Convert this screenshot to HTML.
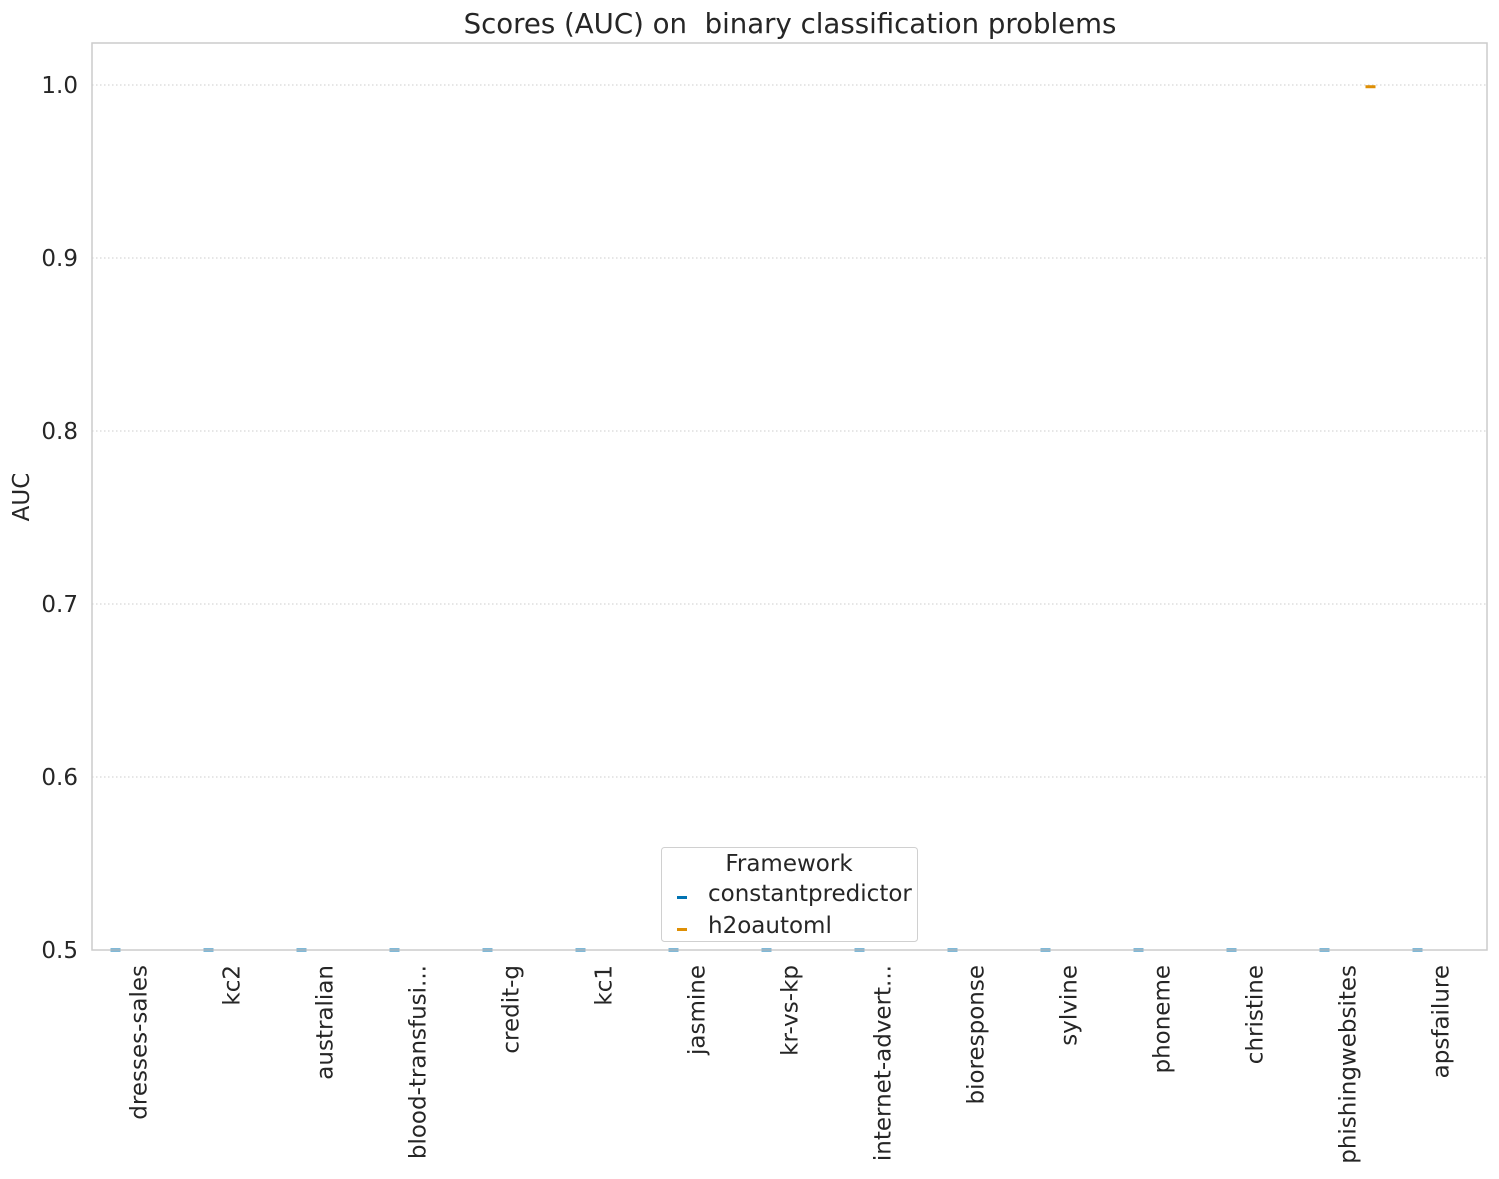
<!DOCTYPE html>
<html><head><meta charset="utf-8"><style>
body{margin:0;background:#fff;}
text{font-family:"DejaVu Sans","Liberation Sans",sans-serif;fill:#262626;}
</style></head><body>
<svg id="chart" width="1499" height="1174" xmlns="http://www.w3.org/2000/svg">
<rect x="0" y="0" width="1499" height="1174" fill="#fff"/>
<text x="790" y="33" font-size="27.6" text-anchor="middle" style="white-space:pre">Scores (AUC) on  binary classification problems</text>
<text transform="translate(29,497) rotate(-90)" font-size="23" text-anchor="middle">AUC</text>
<g id="grid"></g>
<g id="marks"></g>
<rect x="92" y="43" width="1395" height="907" fill="none" stroke="#cccccc" stroke-width="1.5"/>
<g id="xlabels"></g>
<g>
<rect x="661.5" y="847.5" width="256" height="94" rx="3" fill="#fff" stroke="#d0d0d0"/>
<text x="789" y="871" font-size="23" text-anchor="middle">Framework</text>
<rect x="677" y="896" width="10" height="3" fill="#0173b2"/>
<text x="708" y="901" font-size="23">constantpredictor</text>
<rect x="677" y="928" width="10" height="3" fill="#de8f05"/>
<text x="708" y="933" font-size="23">h2oautoml</text>
</g>
</svg>
<script>
const categories=["dresses-sales","kc2","australian","blood-transfusi...","credit-g","kc1","jasmine","kr-vs-kp","internet-advert...","bioresponse","sylvine","phoneme","christine","phishingwebsites","apsfailure"];
const constantValues=[0.5,0.5,0.5,0.5,0.5,0.5,0.5,0.5,0.5,0.5,0.5,0.5,0.5,0.5,0.5];
const h2oValues=[null,null,null,null,null,null,null,null,null,null,null,null,null,0.999,null];
const yTicks=[0.5,0.6,0.7,0.8,0.9,1.0];
const yTickLabels=["0.5","0.6","0.7","0.8","0.9","1.0"];
const NS="http://www.w3.org/2000/svg";
const L=92,R=1487,T=43,B=950;
function y(v){return 950-(v-0.5)/0.5*865;}
function xc(i){return L+(R-L)/categories.length*(i+0.5);}
const grid=document.getElementById('grid'),marks=document.getElementById('marks'),xl=document.getElementById('xlabels');
yTicks.forEach((t,i)=>{
 const yy=y(t);
 if(t>0.5){const l=document.createElementNS(NS,'line');
 l.setAttribute('x1',L);l.setAttribute('x2',R);l.setAttribute('y1',yy);l.setAttribute('y2',yy);
 l.setAttribute('stroke','#cccccc');l.setAttribute('stroke-dasharray','1.5 2.5');
 
 
 grid.appendChild(l);}
 const tx=document.createElementNS(NS,'text');
 tx.setAttribute('x',78);tx.setAttribute('y',yy+8);tx.setAttribute('font-size','23');tx.setAttribute('text-anchor','end');
 tx.textContent=yTickLabels[i];
 
 
 grid.appendChild(tx);
});
function mark(i,v,off,color,name){
 if(v==null)return;
 const r=document.createElementNS(NS,'rect');
 r.setAttribute('x',xc(i)+off-5);r.setAttribute('y',y(v)-1.5);r.setAttribute('width',10);r.setAttribute('height',3);
 r.setAttribute('fill',color);
 
 
 marks.appendChild(r);
}
categories.forEach((c,i)=>{
 mark(i,constantValues[i],-23,'#0173b2','constantpredictor-mark');
 mark(i,h2oValues[i],23,'#de8f05','h2oautoml-mark');
 const tx=document.createElementNS(NS,'text');
 const x=xc(i)+8;
 tx.setAttribute('transform','translate('+x+',965) rotate(-90)');
 tx.setAttribute('font-size','23');tx.setAttribute('text-anchor','end');
 tx.textContent=c;
 
 
 xl.appendChild(tx);
});
</script>
</body></html>
